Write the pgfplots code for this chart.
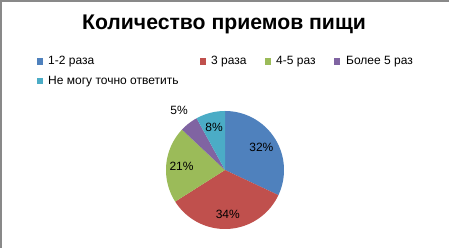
\documentclass[border=0pt]{standalone}
\usepackage{pgfplots}
\pgfplotsset{compat=1.18}
\usepackage{pgfplotstable}
\usepackage{fontspec}
\setmainfont{Liberation Sans}
\definecolor{slice0}{HTML}{4F81BD}
\definecolor{slice1}{HTML}{C0504D}
\definecolor{slice2}{HTML}{9BBB59}
\definecolor{slice3}{HTML}{8064A2}
\definecolor{slice4}{HTML}{4BACC6}
\definecolor{frame}{HTML}{898989}

\pgfplotstableread[col sep=comma]{
label,value,r
1-2 раза,32,0.73
3 раза,34,0.76
4-5 раз,21,0.74
Более 5 раз,5,1.27
Не могу точно ответить,8,0.74
}\piedata

\begin{document}
\begin{tikzpicture}[x=1pt,y=1pt]
\path[use as bounding box] (0,0) rectangle (449,248);
\fill[white] (0,0) rectangle (449,248);
\draw[frame, line width=2pt] (1,0) -- (1,247.25) -- (449,247.25);

\node[anchor=base, inner sep=0pt] at (224,218) {\bfseries\fontsize{21.2}{24}\selectfont Количество приемов пищи};

% legend
\fill[slice0] (36.75,183) rectangle (43.25,189.5);
\node[anchor=base west, inner sep=0pt] at (48,183) {\fontsize{12}{14}\selectfont 1-2 раза};
\fill[slice1] (199.75,183) rectangle (206.25,189.5);
\node[anchor=base west, inner sep=0pt] at (211,183) {\fontsize{12}{14}\selectfont 3 раза};
\fill[slice2] (264.75,183) rectangle (271.25,189.5);
\node[anchor=base west, inner sep=0pt] at (276,183) {\fontsize{12}{14}\selectfont 4-5 раз};
\fill[slice3] (333.75,183) rectangle (340.25,189.5);
\node[anchor=base west, inner sep=0pt] at (346,183) {\fontsize{12}{14}\selectfont Более 5 раз};
\fill[slice4] (36.75,163.5) rectangle (43.25,170);
\node[anchor=base west, inner sep=0pt] at (48,163.5) {\fontsize{12}{14}\selectfont Не могу точно ответить};

\begin{axis}[at={(225pt,78pt)}, anchor=center, width=118pt, height=118pt,
  scale only axis, xmin=-1, xmax=1, ymin=-1, ymax=1, hide axis, clip=false]
\def\startang{90}
\pgfplotsforeachungrouped \i in {0,...,4}{%
  \pgfplotstablegetelem{\i}{value}\of\piedata
  \let\val\pgfplotsretval
  \pgfplotstablegetelem{\i}{r}\of\piedata
  \let\lr\pgfplotsretval
  \pgfmathsetmacro\endang{\startang - 3.6*\val}
  \pgfmathsetmacro\midang{(\startang+\endang)/2}
  \pgfmathsetmacro\lx{\lr*cos(\midang)}
  \pgfmathsetmacro\ly{\lr*sin(\midang)}
  \edef\temp{\noexpand\addplot[fill=slice\i, draw=none, domain=\endang:\startang, samples=90] ({cos(x)},{sin(x)}) -- (axis cs:0,0) -- cycle;
    \noexpand\node[font=\noexpand\fontsize{12}{14}\noexpand\selectfont, inner sep=0pt] at (axis cs:\lx,\ly) {\val\noexpand\%};}%
  \temp
  \let\startang\endang
}
\end{axis}
\end{tikzpicture}
\end{document}
